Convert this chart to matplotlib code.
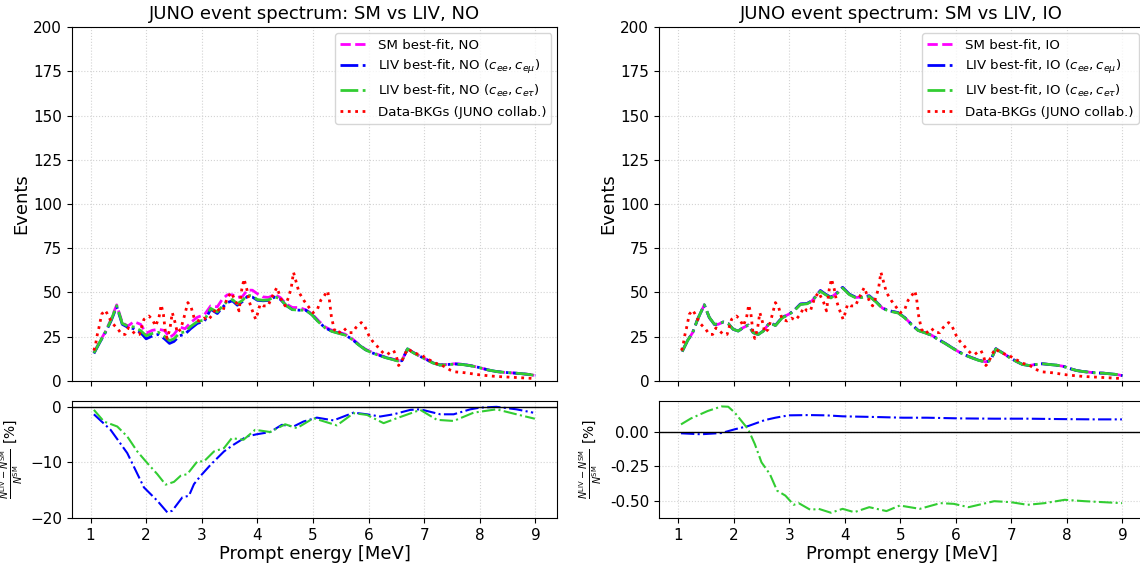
import matplotlib
matplotlib.use('Agg')
import matplotlib.pyplot as plt
from matplotlib.ticker import FormatStrFormatter

# Data-BKGs (JUNO collab.), same in both panels
E_data = [1.06, 1.09, 1.12, 1.15, 1.2, 1.26, 1.3, 1.38, 1.44, 1.5, 1.56, 1.62, 1.68, 1.75, 1.81,
          1.88, 1.96, 2.05, 2.11, 2.17, 2.23, 2.27, 2.31, 2.35, 2.38, 2.43, 2.47, 2.52, 2.56, 2.62,
          2.68, 2.75, 2.81, 2.87, 2.96, 3.04, 3.11, 3.2, 3.26, 3.32, 3.38, 3.46, 3.53, 3.62, 3.67,
          3.72, 3.76, 3.81, 3.85, 3.9, 3.97, 4.0, 4.05, 4.11, 4.19, 4.26, 4.35, 4.44, 4.5, 4.56,
          4.61, 4.65, 4.7, 4.75, 4.84, 4.93, 5.0, 5.08, 5.14, 5.2, 5.26, 5.29, 5.33, 5.38, 5.45,
          5.56, 5.63, 5.71, 5.77, 5.83, 5.87, 5.93, 6.01, 6.07, 6.13, 6.2, 6.28, 6.34, 6.4, 6.45,
          6.5, 6.54, 6.59, 6.65, 6.71, 6.78, 6.87, 6.96, 7.05, 7.14, 7.22, 7.29, 7.38, 7.47, 7.56,
          7.65, 7.74, 7.83, 7.95, 8.07, 8.19, 8.31, 8.43, 8.55, 8.67, 8.79, 8.9, 9.0]
data = [17.2, 20.6, 26, 30, 37.7, 40, 38, 33, 31, 29, 26.3, 26.3, 30, 28.2, 26.3,
        26.3, 34.8, 36.7, 34.8, 31, 35.8, 43, 37.7, 26.3, 24, 30, 38.6, 33, 27.3, 29.2,
        35.8, 44.3, 41.5, 34.8, 33.9, 35.5, 34.3, 37.7, 41.5, 39.6, 39.6, 47.2, 50, 44.3, 39.6,
        51.9, 57.6, 51.9, 45.3, 40.5, 34.8, 37.7, 43.4, 42.4, 42.4, 47.2, 52.8, 45.3, 42.4, 47.2,
        52.8, 61.4, 55.7, 50, 45.3, 41.5, 38.5, 40.5, 45.6, 48, 50.9, 47.2, 36.7, 29.2, 26.7,
        29.7, 27.3, 27.3, 30.1, 32, 33, 31, 25.4, 22.5, 20.6, 17.8, 15.3, 15, 16.5, 17.2,
        14, 8.7, 10.6, 15, 18.2, 16.5, 15.3, 14.4, 12.5, 11.2, 9.8, 9.3, 7.8, 6.1, 5.1,
        4.9, 4.6, 4.2, 3.6, 3.2, 2.8, 2.5, 2.3, 2.1, 1.9, 1.7, 1.5, 1.3]

# NO spectra
E_NO = [1.06, 1.17, 1.27, 1.37, 1.47, 1.57, 1.67, 1.78, 1.9, 2.0, 2.11, 2.22, 2.33, 2.42, 2.5,
        2.6, 2.7, 2.8, 2.92, 3.05, 3.16, 3.28, 3.37, 3.46, 3.55, 3.64, 3.73, 3.82, 3.91, 4.0,
        4.1, 4.2, 4.31, 4.41, 4.52, 4.63, 4.75, 4.87, 4.98, 5.1, 5.22, 5.34, 5.46, 5.58, 5.7,
        5.82, 5.94, 6.06, 6.18, 6.3, 6.42, 6.52, 6.6, 6.7, 6.8, 6.92, 7.04, 7.16, 7.28, 7.4,
        7.55, 7.7, 7.85, 8.0, 8.15, 8.3, 8.45, 8.6, 8.75, 8.9, 9.0]
sm_no = [16, 22.5, 28, 35, 43, 33, 31, 33.5, 32, 27, 28.6, 29.2, 28.5, 24.5, 26.3,
         30.5, 29.5, 33, 36, 37.5, 42.4, 41.9, 46.2, 48.7, 48.7, 47.2, 47.7, 51.3, 51.3, 49.3,
         47.5, 47.2, 48.7, 47.2, 43.5, 41.5, 41.5, 40.2, 38, 34, 30.5, 28.6, 27.6, 26.4, 24,
         20.8, 18, 16.2, 14.8, 13.5, 12.5, 11.5, 11.5, 18.2, 16.2, 14.1, 12.2, 10.3, 9.1, 9.3,
         9.7, 9.4, 8.6, 7.5, 6.2, 5.3, 4.8, 4.5, 4.1, 3.6, 3.0]
liv_no_mu = [15.5, 22, 27.5, 34, 42, 32, 30.3, 29.5, 27.3, 23.8, 25.4, 26.3, 23.8, 21.2, 22.3,
             25.5, 26.5, 29.5, 32.5, 33.8, 40.5, 38.1, 41.5, 44.3, 45.3, 42.8, 44.8, 47.8, 47.4, 45.6,
             45.3, 45.5, 47.4, 46.2, 42.6, 40.3, 40, 40, 37.5, 33.4, 30, 28.1, 27.1, 26, 23.6,
             20.5, 17.7, 15.9, 14.6, 13.3, 12.3, 11.4, 11.4, 18.1, 16.1, 14, 12.1, 10.2, 9, 9.2,
             9.6, 9.3, 8.5, 7.5, 6.2, 5.3, 4.8, 4.5, 4.1, 3.6, 3.0]
liv_no_tau = [15.8, 22.2, 27.8, 34.5, 42.5, 32.5, 31, 30.5, 28.5, 25.5, 26.8, 27.5, 25.2, 22.8, 23.8,
              27, 27.8, 30.8, 33.5, 34.5, 41, 39, 42.2, 45, 46, 43.6, 45.5, 48.5, 48, 46,
              45.6, 45.8, 47.6, 46.4, 42.6, 40.3, 40, 40, 37.4, 33.3, 29.9, 28, 26.9, 25.9, 23.5,
              20.4, 17.7, 15.8, 14.5, 13.2, 12.2, 11.3, 11.3, 18.1, 16, 13.9, 12, 10.1, 9, 9.1,
              9.5, 9.2, 8.5, 7.4, 6.2, 5.3, 4.8, 4.5, 4.1, 3.6, 3.0]

# IO spectra
E_IO = [1.07, 1.17, 1.26, 1.35, 1.47, 1.56, 1.65, 1.72, 1.81, 1.9, 1.99, 2.08, 2.17, 2.26, 2.35,
        2.44, 2.53, 2.65, 2.75, 2.87, 2.99, 3.08, 3.2, 3.32, 3.41, 3.56, 3.65, 3.75, 3.87, 3.96,
        4.08, 4.2, 4.32, 4.44, 4.56, 4.68, 4.81, 4.96, 5.08, 5.2, 5.32, 5.44, 5.56, 5.68, 5.81,
        5.93, 6.05, 6.17, 6.29, 6.41, 6.53, 6.59, 6.64, 6.72, 6.84, 6.96, 7.08, 7.2, 7.32, 7.44,
        7.56, 7.68, 7.81, 7.93, 8.05, 8.17, 8.29, 8.41, 8.53, 8.65, 8.78, 8.9, 9.0]
sm_io = [16.6, 22.9, 27.3, 34.9, 43, 35.8, 32, 32, 33.3, 32.4, 29.2, 28.2, 30.1, 31.6, 27.3,
         26.3, 28.2, 33, 31.4, 35.8, 37.7, 39.6, 43.4, 43.8, 45.3, 51, 49, 47.2, 50, 52.8,
         49, 47.2, 47.5, 48.1, 44.9, 41.1, 39.6, 38.6, 35.8, 32, 28.6, 27.3, 25.9, 23.5, 21.2,
         18.8, 16.5, 14.6, 13.1, 11.7, 10.8, 11.2, 12.7, 18.2, 15.9, 13.4, 11.2, 9.3, 8.7, 9.3,
         9.7, 9.3, 8.9, 8.3, 7, 5.9, 5.3, 4.9, 4.5, 4.4, 4, 3.6, 3]
liv_io_mu = [16.6, 22.9, 27.3, 34.9, 43.0, 35.8, 32.0, 32.0, 33.3, 32.4, 29.2, 28.2, 30.1, 31.6, 27.3,
             26.3, 28.2, 33.0, 31.4, 35.8, 37.7, 39.6, 43.5, 43.8, 45.3, 51.1, 49.1, 47.3, 50.1, 52.9,
             49.1, 47.2, 47.5, 48.1, 44.9, 41.1, 39.6, 38.6, 35.8, 32.0, 28.6, 27.3, 25.9, 23.5, 21.2,
             18.8, 16.5, 14.6, 13.1, 11.7, 10.8, 11.2, 12.7, 18.2, 15.9, 13.4, 11.2, 9.3, 8.7, 9.3,
             9.7, 9.3, 8.9, 8.3, 7.0, 5.9, 5.3, 4.9, 4.5, 4.4, 4.0, 3.6, 3.0]
liv_io_tau = [16.6, 22.9, 27.3, 34.9, 43.1, 35.9, 32.1, 32.1, 33.3, 32.4, 29.2, 28.2, 30.1, 31.5, 27.3,
              26.2, 28.1, 32.9, 31.3, 35.6, 37.5, 39.4, 43.2, 43.6, 45.1, 50.7, 48.8, 46.9, 49.7, 52.5,
              48.8, 46.9, 47.2, 47.8, 44.7, 40.9, 39.4, 38.4, 35.6, 31.8, 28.5, 27.2, 25.8, 23.4, 21.1,
              18.7, 16.4, 14.5, 13.0, 11.6, 10.7, 11.1, 12.6, 18.1, 15.8, 13.3, 11.1, 9.3, 8.7, 9.3,
              9.7, 9.3, 8.9, 8.3, 7.0, 5.9, 5.3, 4.9, 4.5, 4.4, 4.0, 3.6, 3.0]

# relative differences (LIV - SM)/SM in %
E_rno_mu = [1.06, 1.36, 1.66, 1.96, 2.2, 2.38, 2.47, 2.65, 2.77, 2.86, 2.98, 3.16, 3.4, 3.57, 3.81,
            3.99, 4.23, 4.44, 4.65, 4.83, 5.07, 5.37, 5.73, 5.97, 6.21, 6.45, 6.75, 6.93, 7.29, 7.53,
            7.83, 8.0, 8.3, 8.66, 8.96]
r_no_mu = [-1.3, -4.1, -8.3, -14.5, -16.9, -19, -18.7, -16.3, -16, -13.9, -12.4, -10.4, -8, -6.8, -5.3,
           -4.9, -4.5, -3.2, -3.5, -2.6, -1.9, -2.4, -1, -1.3, -1.7, -1.3, -0.5, -0.4, -1.3, -1.3,
           -0.4, -0.1, 0.05, -0.4, -1]
E_rno_tau = [1.06, 1.24, 1.48, 1.66, 1.84, 2.02, 2.2, 2.35, 2.5, 2.62, 2.74, 2.92, 3.04, 3.22, 3.4,
             3.54, 3.75, 3.96, 4.23, 4.5, 4.71, 5.01, 5.43, 5.73, 5.97, 6.27, 6.51, 6.93, 7.23, 7.53,
             7.89, 8.3, 8.66, 8.99]
r_no_tau = [-0.5, -2.6, -3.5, -5.3, -8, -10.1, -12.1, -14, -13.5, -12.4, -12.1, -9.8, -9.8, -8, -7.4,
            -5.6, -5.9, -4.1, -4.5, -3.1, -3.8, -2, -3.3, -1.1, -1.4, -2.9, -2, -0.5, -2.3, -2.5,
            -1, -0.4, -1.3, -2.1]
E_rio_mu = [1.05, 1.41, 1.78, 2.02, 2.26, 2.56, 2.75, 2.99, 3.35, 3.66, 3.96, 4.56, 5.05, 5.48, 6.08,
            6.69, 7.29, 7.9, 8.51, 8.99]
r_io_mu = [-0.012, -0.019, -0.01, 0.017, 0.04, 0.083, 0.1, 0.117, 0.119, 0.117, 0.11, 0.105, 0.1, 0.1,
           0.095, 0.093, 0.093, 0.09, 0.088, 0.088]
E_rio_tau = [1.05, 1.23, 1.53, 1.78, 1.9, 2.02, 2.14, 2.26, 2.38, 2.5, 2.65, 2.78, 2.93, 3.08, 3.17,
             3.38, 3.53, 3.75, 3.96, 4.17, 4.44, 4.75, 4.99, 5.35, 5.72, 5.96, 6.23, 6.69, 6.99, 7.29,
             7.6, 7.96, 8.32, 8.99]
r_io_tau = [0.052, 0.095, 0.148, 0.181, 0.179, 0.136, 0.076, 0.017, -0.09, -0.221, -0.305, -0.424, -0.46,
            -0.526, -0.514, -0.562, -0.555, -0.583, -0.555, -0.579, -0.543, -0.571, -0.531, -0.555,
            -0.514, -0.519, -0.543, -0.5, -0.507, -0.526, -0.514, -0.49, -0.5, -0.514]

panels = [
    ('NO', E_NO, sm_no, liv_no_mu, liv_no_tau, E_rno_mu, r_no_mu, E_rno_tau, r_no_tau),
    ('IO', E_IO, sm_io, liv_io_mu, liv_io_tau, E_rio_mu, r_io_mu, E_rio_tau, r_io_tau),
]
ratio_ylims = [(-20, 1.1), (-0.62, 0.22)]
ratio_ticks = [[-20, -10, 0], [-0.5, -0.25, 0.0]]

fig = plt.figure(figsize=(11.4, 5.66), dpi=100)
lefts = [0.063, 0.578]
width = 0.426

for i, (mo, E, sm, lmu, ltau, Emu, rmu, Etau, rtau) in enumerate(panels):
    ax = fig.add_axes([lefts[i], 0.327, width, 0.625])
    axr = fig.add_axes([lefts[i], 0.085, width, 0.2065], sharex=ax)

    ax.plot(E, sm, color='magenta', ls='--', lw=2, label='SM best-fit, %s' % mo)
    ax.plot(E, lmu, color='blue', ls='-.', lw=2,
            label=r'LIV best-fit, %s ($c_{ee}, c_{e\mu}$)' % mo)
    ax.plot(E, ltau, color='limegreen', ls='-.', lw=2,
            label=r'LIV best-fit, %s ($c_{ee}, c_{e\tau}$)' % mo)
    ax.plot(E_data, data, color='red', ls=':', lw=2, label='Data-BKGs (JUNO collab.)')
    ax.set_ylim(0, 200)
    ax.set_yticks(range(0, 201, 25))
    ax.set_ylabel('Events', fontsize=13, labelpad=2)
    ax.set_title('JUNO event spectrum: SM vs LIV, %s' % mo, fontsize=13)
    ax.grid(True, ls=':', color='lightgray')
    ax.legend(loc='upper right', fontsize=9.6, borderaxespad=0.45)
    ax.tick_params(labelsize=11)
    ax.tick_params(axis='x', labelbottom=False)

    axr.plot(Emu, rmu, color='blue', ls='-.', lw=1.5)
    axr.plot(Etau, rtau, color='limegreen', ls='-.', lw=1.5)
    axr.axhline(0, color='black', lw=1)
    axr.grid(True, ls=':', color='lightgray')
    axr.set_ylim(*ratio_ylims[i])
    axr.set_yticks(ratio_ticks[i])
    if i == 1:
        axr.yaxis.set_major_formatter(FormatStrFormatter('%.2f'))
    axr.set_xticks(range(1, 10))
    axr.set_xlabel('Prompt energy [MeV]', fontsize=13, labelpad=2)
    axr.set_ylabel(r'$\frac{N^{\rm LIV} - N^{\rm SM}}{N^{\rm SM}}$ [%]', fontsize=10)
    axr.tick_params(labelsize=11)

fig.savefig('out.png', dpi=100)
